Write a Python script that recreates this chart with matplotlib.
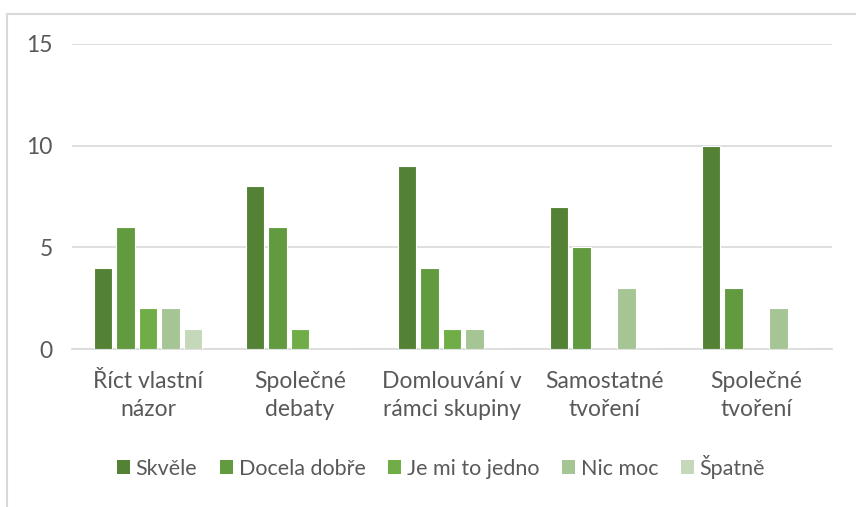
import matplotlib
matplotlib.use("Agg")
import matplotlib.pyplot as plt
import numpy as np
from matplotlib.patches import Rectangle, Patch

categories = ["Říct vlastní\nnázor", "Společné\ndebaty", "Domlouvání v\nrámci skupiny",
              "Samostatné\ntvoření", "Společné\ntvoření"]
series_names = ["Skvěle", "Docela dobře", "Je mi to jedno", "Nic moc", "Špatně"]
skvele = [4, 8, 9, 7, 10]
docela_dobre = [6, 6, 4, 5, 3]
jedno = [2, 1, 1, 0, 0]
nic_moc = [2, 0, 1, 3, 2]
spatne = [1, 0, 0, 0, 0]
series = [skvele, docela_dobre, jedno, nic_moc, spatne]
colors = ["#548235", "#629B3F", "#70AD47", "#A5C594", "#C5D8BA"]
yticks = [0, 5, 10, 15]

plt.rcParams['font.family'] = ['Lato', 'DejaVu Sans']
FS = 16.5
W, H = 856, 507
fig = plt.figure(figsize=(W/100, H/100), dpi=100)
fig.patches.append(Rectangle((6.5/W, -0.1), 1.2, 1.1 - 14/H, transform=fig.transFigure,
                             fill=False, edgecolor="#D9D9D9", linewidth=1.5))
ax = fig.add_axes([72/W, 1 - 349/H, 760/W, (349-44)/H])

x = np.arange(len(categories))
slot = 22.5/152
bw = 18.5/152
for i, (vals, c) in enumerate(zip(series, colors)):
    ax.bar(x + (i - 2) * slot, vals, width=bw, color=c, edgecolor="white",
           linewidth=0.8, label=series_names[i], zorder=3)

ax.set_xlim(-0.5, len(categories) - 0.5)
ax.set_ylim(0, 15)
ax.set_yticks(yticks)
ax.set_yticklabels([str(t) for t in yticks], fontsize=FS, color="#595959")
ax.set_xticks(x)
ax.set_xticklabels(categories, fontsize=FS, color="#595959", linespacing=1.4)
ax.tick_params(axis='both', length=0)
ax.tick_params(axis='y', pad=14)
ax.tick_params(axis='x', pad=16)
for s in ["top", "right", "left"]:
    ax.spines[s].set_visible(False)
ax.spines["bottom"].set_color("#D9D9D9")
ax.spines["bottom"].set_linewidth(1.2)
ax.grid(axis='y', color="#D9D9D9", linewidth=1.2, zorder=0)
ax.set_axisbelow(True)

handles = [Patch(facecolor=c, edgecolor='none') for c in colors]
leg = fig.legend(handles, series_names, loc='center', bbox_to_anchor=(441/W, 1 - 467/H),
                 ncol=5, frameon=False, fontsize=15.5, handlelength=0.62, handleheight=0.62,
                 handletextpad=0.25, columnspacing=1.05, borderaxespad=0, borderpad=0)
for t in leg.get_texts():
    t.set_color("#595959")

fig.savefig("out.png", dpi=100)
